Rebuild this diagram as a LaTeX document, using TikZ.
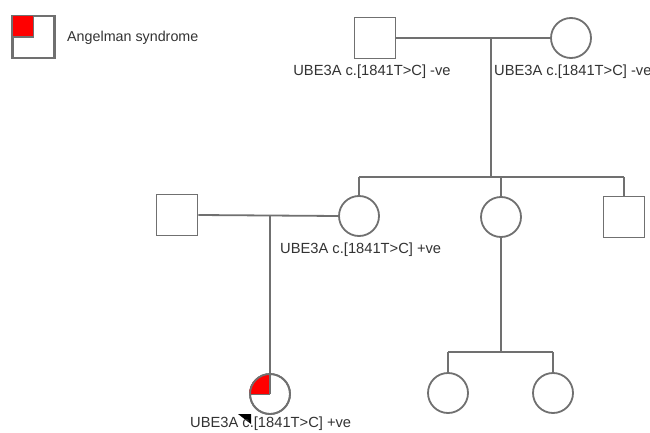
\documentclass[tikz,border=0pt]{standalone}
\usepackage{fontspec}
\setmainfont{Liberation Sans}
\definecolor{linegray}{RGB}{112,112,112}
\definecolor{textgray}{RGB}{51,51,51}
\definecolor{affred}{RGB}{255,0,0}
\begin{document}
\begin{tikzpicture}[x=1pt,y=-1pt,
  ped/.style={draw=linegray,line width=1.8pt},
  male/.style={ped,rectangle,minimum size=41pt,inner sep=0pt},
  female/.style={ped,circle,minimum size=40pt,inner sep=0pt},
  conn/.style={draw=linegray,line width=1.8pt},
  lbl/.style={text=textgray,font=\fontsize{14.7}{16}\selectfont,inner sep=0pt,anchor=west}]
\useasboundingbox (0,0) rectangle (650,433);
\fill[white] (0,0) rectangle (650,433);
% legend
\node[male] (leg) at (33.5,37) {};
\filldraw[fill=affred,draw=linegray,line width=1.8pt] (leg.north west) rectangle (33.5,37);
\draw[linegray,line width=1.8pt] (leg.north west) rectangle (leg.south east);
\node[lbl,font=\fontsize{14.3}{16}\selectfont] (legt) at (67,38) {Angelman syndrome};
% generation I
\node[male] (f1) at (375,38) {};
\node[female] (m1) at (571,38) {};
\draw[conn] (f1.east) -- (m1.west);
\coordinate (d1) at (491,38);
\coordinate (s1) at (491,177);
\draw[conn] (d1) -- (s1);
\node[lbl,anchor=center] (l1) at (372,72) {UBE3A c.[1841T>C] -ve};
\node[lbl] (l2) at (494,72) {UBE3A c.[1841T>C] -ve};
% generation II
\node[female] (c1) at (359,216) {};
\node[female] (c2) at (501,217) {};
\node[male] (c3) at (624,217) {};
\coordinate (sl) at (359,177);
\coordinate (sr) at (624,177);
\draw[conn] (sl) -- (sr);
\draw[conn] (sl) -- (c1.north);
\draw[conn] (c2.north |- s1) -- (c2.north);
\draw[conn] (sr) -- (c3.north);
\node[male] (h2) at (177,215) {};
\draw[conn] (h2.east) -- (c1.west);
\node[lbl] (l3) at (280,250) {UBE3A c.[1841T>C] +ve};
% proband
\coordinate (d2) at (270,215);
\node[female] (p) at (270,394) {};
\fill[affred] (p.center) -- (p.west) arc[start angle=180,end angle=90,radius=20pt] -- cycle;
\draw[linegray,line width=0.9pt] (p.west) -- (p.center);
\draw[linegray,line width=1.8pt] (p.center) -- (p.north);
\draw[linegray,line width=1.8pt] (p.center) circle[radius=20pt];
\draw[conn] (d2) -- (p.north);
\fill[black] (238,414) -- (251,414) -- (251,424) -- cycle;
\node[lbl] (l4) at (190,424) {UBE3A c.[1841T>C] +ve};
% generation III
\coordinate (t2) at (501,352);
\draw[conn] (c2.south) -- (t2);
\node[female] (g1) at (448,393) {};
\node[female] (g2) at (553,393) {};
\coordinate (gl) at (448,352);
\coordinate (gr) at (553,352);
\draw[conn] (gl) -- (gr);
\draw[conn] (gl) -- (g1.north);
\draw[conn] (gr) -- (g2.north);
\end{tikzpicture}
\end{document}
